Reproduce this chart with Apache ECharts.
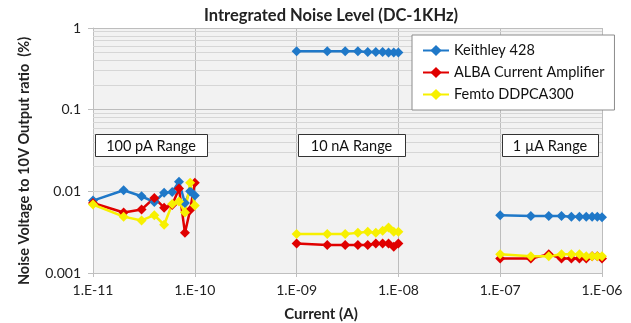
<!DOCTYPE html>
<html>
<head>
<meta charset="utf-8">
<script src="https://cdn.jsdelivr.net/npm/echarts@6/dist/echarts.min.js"></script>
<style>html,body{margin:0;padding:0;background:#fff}#c{width:631px;height:323px}</style>
</head>
<body>
<div id="c"></div>
<script>
// ---- data ----
var range1X = [1e-11, 2e-11, 3e-11, 4e-11, 5e-11, 6e-11, 7e-11, 8e-11, 9e-11, 1e-10];
var range2X = [1e-9, 2e-9, 3e-9, 4e-9, 5e-9, 6e-9, 7e-9, 8e-9, 9e-9, 1e-8];
var range3X = [1e-7, 2e-7, 3e-7, 4e-7, 5e-7, 6e-7, 7e-7, 8e-7, 9e-7, 1e-6];

var keithley1 = [0.0077, 0.0103, 0.0087, 0.0074, 0.0096, 0.0098, 0.0131, 0.0072, 0.0100, 0.0089];
var keithley2 = [0.52, 0.52, 0.52, 0.52, 0.51, 0.51, 0.51, 0.50, 0.50, 0.50];
var keithley3 = [0.0051, 0.0050, 0.0050, 0.0050, 0.0049, 0.0049, 0.0049, 0.0049, 0.0049, 0.0048];

var alba1 = [0.0072, 0.0055, 0.0060, 0.0083, 0.0063, 0.0068, 0.0108, 0.0031, 0.0059, 0.0127];
var alba2 = [0.0023, 0.0022, 0.0022, 0.0022, 0.0022, 0.0023, 0.0023, 0.0023, 0.0021, 0.0023];
var alba3 = [0.0015, 0.0015, 0.0017, 0.0015, 0.0015, 0.0015, 0.0015, 0.0016, 0.0016, 0.0015];

var femto1 = [0.0069, 0.0049, 0.0044, 0.0051, 0.0039, 0.0070, 0.0075, 0.0055, 0.0127, 0.0067];
var femto2 = [0.0030, 0.0030, 0.0030, 0.0031, 0.0032, 0.0031, 0.0033, 0.0036, 0.0032, 0.0032];
var femto3 = [0.0017, 0.0016, 0.0016, 0.0017, 0.0017, 0.0017, 0.0016, 0.0016, 0.0016, 0.0016];

var seriesNames = ['Keithley 428', 'ALBA Current Amplifier', 'Femto DDPCA300'];
var rangeLabels = ['100 pA Range', '10 nA Range', '1 \u00b5A Range'];
var xTickLabels = ['1.E-11', '1.E-10', '1.E-09', '1.E-08', '1.E-07', '1.E-06'];
var yTickLabels = ['0.001', '0.01', '0.1', '1'];

// ---- build ----
function build(a, b, c) {
  var out = [];
  [[range1X, a], [range2X, b], [range3X, c]].forEach(function (p, gi) {
    if (gi > 0) out.push([p[0][0] * 0.5, '-']);
    p[0].forEach(function (x, i) { out.push([x, p[1][i]]); });
  });
  return out;
}
var minorX = [], minorY = [];
for (var d = -11; d <= -7; d++) for (var k = 2; k <= 9; k++) minorX.push({ xAxis: k * Math.pow(10, d) });
for (var e = -3; e <= -1; e++) for (var k2 = 2; k2 <= 9; k2++) minorY.push({ yAxis: k2 * Math.pow(10, e) });

var colors = ['#1f78c8', '#e00000', '#f7f000'];
var FONT = 'Lato';

function mkSeries(name, data, color) {
  return {
    name: name, type: 'line', data: data, connectNulls: false,
    symbol: 'diamond', symbolSize: 10, showSymbol: true,
    lineStyle: { color: color, width: 2.5 },
    itemStyle: { color: color },
    z: 5
  };
}

var chart = echarts.init(document.getElementById('c'), null, { renderer: 'canvas' });
var option = {
  animation: false,
  textStyle: { fontFamily: FONT },
  title: {
    text: 'Intregrated Noise Level (DC-1KHz)',
    left: 326, top: 2, textAlign: 'center',
    textStyle: { fontFamily: FONT, fontWeight: 'bold', fontSize: 16.5, color: '#222' }
  },
  grid: {
    left: 93, right: 29, top: 28, bottom: 50,
    show: true, backgroundColor: '#f2f2f2', borderWidth: 0
  },
  legend: {
    orient: 'vertical', left: 412, top: 35, z: 20,
    data: seriesNames,
    backgroundColor: '#ffffff', borderColor: '#8c8c8c', borderWidth: 1,
    padding: [8, 10, 8, 10], itemWidth: 26, itemHeight: 14, itemGap: 7,
    textStyle: { fontFamily: FONT, fontSize: 14.5, color: '#111' }
  },
  xAxis: {
    type: 'log', logBase: 10, min: 1e-11, max: 1e-6,
    axisLine: { show: true, lineStyle: { color: '#bfbfbf' } },
    axisTick: { show: true, length: 4, lineStyle: { color: '#bfbfbf' } },
    axisLabel: {
      margin: 10, fontSize: 14, color: '#222', fontFamily: FONT,
      formatter: function (v) { return xTickLabels[Math.round(Math.log10(v)) + 11]; }
    },
    splitLine: { show: true, lineStyle: { color: '#bdbdbd', width: 1 } }
  },
  yAxis: {
    type: 'log', logBase: 10, min: 0.001, max: 1,
    axisLine: { show: true, lineStyle: { color: '#bfbfbf' } },
    axisTick: { show: true, length: 5, lineStyle: { color: '#bfbfbf' } },
    axisLabel: {
      margin: 12, fontSize: 14, color: '#222', fontFamily: FONT,
      formatter: function (v) { return yTickLabels[Math.round(Math.log10(v)) + 3]; }
    },
    splitLine: { show: true, lineStyle: { color: '#bdbdbd', width: 1 } }
  },
  series: [
    {
      name: '_grid', type: 'line', data: [], silent: true, z: 1,
      markLine: {
        silent: true, symbol: ['none', 'none'], label: { show: false },
        lineStyle: { color: '#d6d6d6', width: 1, type: 'solid' },
        emphasis: { disabled: true },
        animation: false,
        data: minorX.concat(minorY)
      }
    },
    mkSeries(seriesNames[0], build(keithley1, keithley2, keithley3), colors[0]),
    mkSeries(seriesNames[1], build(alba1, alba2, alba3), colors[1]),
    mkSeries(seriesNames[2], build(femto1, femto2, femto3), colors[2])
  ],
  graphic: [
    {
      type: 'text', x: 24, y: 161, rotation: Math.PI / 2,
      style: {
        text: 'Noise Voltage to 10V Output ratio  (%)',
        fontFamily: FONT, fontWeight: 'bold', fontSize: 14.5, fill: '#222',
        align: 'center', verticalAlign: 'middle'
      }, z: 10
    },
    {
      type: 'text', x: 321, y: 314,
      style: {
        text: 'Current (A)',
        fontFamily: FONT, fontWeight: 'bold', fontSize: 15, fill: '#222',
        align: 'center', verticalAlign: 'middle'
      }, z: 10
    }
  ]
};
var boxes = [[95, 207], [298, 405], [502, 598]];
boxes.forEach(function (b, i) {
  option.graphic.push({
    type: 'rect', shape: { x: b[0] + 0.5, y: 134.5, width: b[1] - b[0], height: 22 },
    style: { fill: '#ffffff', stroke: '#333', lineWidth: 1 }, z: 10
  });
  option.graphic.push({
    type: 'text', x: (b[0] + b[1]) / 2, y: 146,
    style: { text: rangeLabels[i], fontFamily: FONT, fontSize: 14.5, fill: '#111', align: 'center', verticalAlign: 'middle' },
    z: 11
  });
});
chart.setOption(option);
</script>
</body>
</html>
